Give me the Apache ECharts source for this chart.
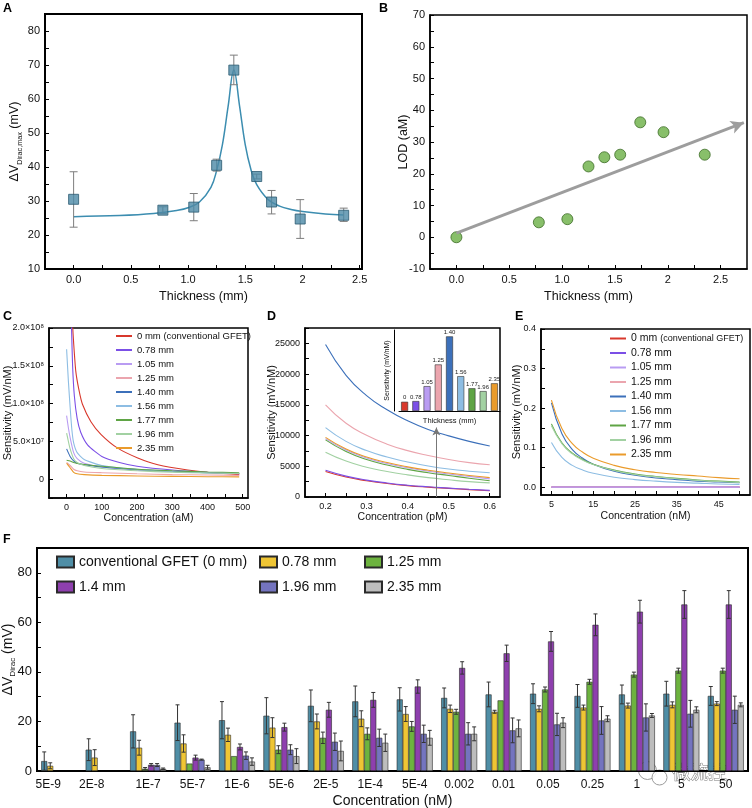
<!DOCTYPE html>
<html><head><meta charset="utf-8">
<script src="https://cdn.jsdelivr.net/npm/echarts@6/dist/echarts.min.js"></script>
<style>html,body{margin:0;padding:0;background:#fff}#c{width:752px;height:808px}</style>
</head><body><div id="c"></div>
<script>
// ---------------- Panel A ----------------
const A_thick = [0, 0.78, 1.05, 1.25, 1.40, 1.60, 1.73, 1.98, 2.36];
const A_dv    = [30.5, 27.3, 28.2, 40.5, 68.5, 37.2, 29.7, 24.7, 25.8];
const A_lo    = [22.3, 26.3, 24.2, 38.8, 64.2, 36.5, 26.2, 19.0, 24.0];
const A_hi    = [38.6, 28.3, 32.2, 42.3, 72.9, 37.9, 33.1, 30.4, 27.9];
const A_fitX  = [0, 0.4, 0.7, 0.9, 1.0, 1.1, 1.2, 1.25, 1.3, 1.35, 1.4, 1.45, 1.5, 1.55, 1.6, 1.7, 1.8, 1.9, 2.0, 2.2, 2.36];
const A_fitY  = [25.4, 25.7, 26.3, 27.2, 28.0, 29.7, 34.0, 39.0, 46.5, 57.8, 68.5, 58.0, 46.5, 39.2, 34.8, 30.4, 28.5, 27.5, 26.9, 26.2, 25.9];
const A_xTicks = [0, 0.5, 1, 1.5, 2, 2.5];
const A_xLabels = ['0.0', '0.5', '1.0', '1.5', '2', '2.5'];
const A_yTicks = [10, 20, 30, 40, 50, 60, 70, 80];

// ---------------- Panel B ----------------
const B_thick = [0, 0.78, 1.05, 1.25, 1.40, 1.55, 1.74, 1.96, 2.35];
const B_lod   = [0, 4.7, 5.7, 22.3, 25.2, 26.0, 36.2, 33.1, 26.0];
const B_arrowStart = [0.0, 1.3];
const B_arrowEnd   = [2.72, 36.1];
const B_yTicks = [-10, 0, 10, 20, 30, 40, 50, 60, 70];

// ---------------- Panels C, D, E (shared thickness series) ----------------
const LINE_NAMES = ['0 mm (conventional GFET)', '0.78 mm', '1.05 mm', '1.25 mm', '1.40 mm', '1.56 mm', '1.77 mm', '1.96 mm', '2.35 mm'];

// C: concentration (aM), sensitivity in units of 1e6 mV/nM
const C_0mm = [[14,260],[17,205],[20,180],[26,143],[35,118],[45,99],[69,76],[98,59],[145,41],[202,28],[259,19],[344,12],[420,8],[490,6]];
const C_078 = [[12,240],[14,200],[17,150],[22,110],[30,80],[40,62],[60,45],[100,30],[150,22],[200,17],[300,12],[400,9],[490,7]];
const C_105 = [[0,84],[5,68],[10,55],[20,35],[30,27],[50,21],[100,16],[200,12],[300,10],[400,8.5],[490,7.5]];
const C_125 = [[0,22],[10,18],[20,13],[30,11],[50,9.5],[100,8.5],[200,7],[300,6],[400,5.5],[490,5]];
const C_140 = [[0,40],[10,30],[20,24],[30,21],[50,19],[100,16],[200,12.5],[300,10],[400,8.5],[490,7.5]];
const C_156 = [[0,172],[5,130],[10,95],[15,65],[20,48],[30,35],[50,26],[100,18],[200,13],[300,10],[400,8.5],[490,7.5]];
const C_177 = [[0,25],[10,24],[20,22],[40,20],[100,17],[200,13],[300,11],[400,9.5],[490,8.5]];
const C_196 = [[0,61],[5,50],[10,40],[20,27],[30,22],[50,18],[100,14],[200,11],[300,9],[400,8],[490,7.5]];
const C_235 = [[0,21],[10,15],[20,9],[30,7],[50,6],[100,5],[200,4.2],[300,3.6],[400,3.2],[490,3]];
const C_xTicks = [0, 100, 200, 300, 400, 500];
const C_yTicks = [0, 50, 100, 150, 200];
const C_yLabels = ['0', '5.0×10⁷', '1.0×10⁸', '1.5×10⁸', '2.0×10⁸'];

// D: concentration (pM)
const D_x   = [0.20, 0.25, 0.30, 0.35, 0.40, 0.45, 0.50, 0.55, 0.60];
const D_0mm = [4150, 3250, 2650, 2200, 1850, 1600, 1400, 1200, 1020];
const D_078 = [4350, 3400, 2750, 2280, 1920, 1660, 1450, 1250, 1080];
const D_105 = [9500, 7650, 6350, 5450, 4750, 4200, 3750, 3350, 2950];
const D_125 = [15000, 12000, 10050, 8600, 7550, 6750, 6100, 5600, 5250];
const D_140 = [24800, 19800, 16500, 14200, 12400, 11000, 9950, 9050, 8300];
const D_156 = [11300, 9050, 7550, 6500, 5700, 5050, 4550, 4200, 3950];
const D_177 = [9300, 7400, 6100, 5200, 4500, 3950, 3500, 3050, 2650];
const D_196 = [7300, 5850, 4850, 4150, 3600, 3150, 2800, 2500, 2300];
const D_235 = [9700, 7800, 6500, 5600, 4900, 4350, 3900, 3500, 3150];
const D_arrowX = 0.47;
const D_arrowTop = 11300;
const D_xTicks = [0.2, 0.3, 0.4, 0.5, 0.6];
const D_yTicks = [0, 5000, 10000, 15000, 20000, 25000];
const INSET_LABELS = ['0', '0.78', '1.05', '1.25', '1.40', '1.56', '1.77', '1.96', '2.35'];
const INSET_VALUES = [1300, 1400, 3500, 6550, 10500, 4900, 3200, 2800, 3900];

// E: concentration (nM)
const E_x   = [5, 7.5, 10, 12.5, 15, 20, 25, 30, 35, 40, 45, 50];
const E_0mm = [0, 0, 0, 0, 0, 0, 0, 0, 0, 0, 0, 0];
const E_078 = [0, 0, 0, 0, 0, 0, 0, 0, 0, 0, 0, 0];
const E_105 = [0, 0, 0, 0, 0, 0, 0, 0, 0, 0, 0, 0];
const E_125 = [0, 0, 0, 0, 0, 0, 0, 0, 0, 0, 0, 0];
const E_140 = [0.213, 0.135, 0.095, 0.073, 0.058, 0.040, 0.030, 0.023, 0.019, 0.015, 0.013, 0.011];
const E_156 = [0.113, 0.075, 0.055, 0.043, 0.035, 0.025, 0.019, 0.015, 0.012, 0.010, 0.008, 0.007];
const E_177 = [0.160, 0.112, 0.086, 0.070, 0.058, 0.043, 0.033, 0.027, 0.022, 0.018, 0.015, 0.013];
const E_196 = [0.155, 0.110, 0.084, 0.068, 0.057, 0.042, 0.032, 0.026, 0.021, 0.017, 0.014, 0.012];
const E_235 = [0.220, 0.148, 0.110, 0.088, 0.073, 0.055, 0.044, 0.037, 0.032, 0.028, 0.024, 0.021];
const E_xTicks = [5, 15, 25, 35, 45];
const E_yTicks = [0, 0.1, 0.2, 0.3, 0.4];

// ---------------- Panel F ----------------
const F_cats = ['5E-9', '2E-8', '1E-7', '5E-7', '1E-6', '5E-6', '2E-5', '1E-4', '5E-4', '0.002', '0.01', '0.05', '0.25', '1', '5', '50'];
const F_names = ['conventional GFET (0 mm)', '0.78 mm', '1.25 mm', '1.4 mm', '1.96 mm', '2.35 mm'];
const F_conv   = [4.0, 8.6, 16.0, 19.5, 20.5, 22.3, 26.3, 28.1, 28.9, 29.5, 30.9, 31.2, 30.3, 30.9, 31.2, 30.3];
const F_convE  = [3.7, 4.4, 6.7, 7.2, 7.5, 7.3, 6.4, 6.2, 4.7, 4.0, 5.0, 4.0, 4.6, 3.8, 5.0, 3.8];
const F_078    = [2.1, 5.4, 9.4, 11.1, 14.6, 17.5, 20.0, 21.1, 23.0, 25.1, 23.9, 25.1, 25.6, 26.4, 26.7, 27.2];
const F_078E   = [1.2, 3.2, 3.0, 3.5, 2.7, 4.0, 3.0, 3.2, 3.0, 1.5, 0.6, 1.2, 1.0, 1.0, 1.2, 0.8];
const F_125    = [null, null, 0.9, 3.0, 6.0, 8.6, 13.4, 15.0, 18.0, 23.9, 28.5, 32.9, 36.0, 38.9, 40.5, 40.5];
const F_125E   = [null, null, 0.5, 0, 0, 1.6, 2.3, 2.4, 2.0, 1.0, 0, 1.0, 1.0, 1.0, 1.0, 1.0];
const F_140    = [null, null, 2.5, 5.4, 9.7, 17.7, 24.7, 28.7, 34.1, 41.6, 47.5, 52.3, 59.0, 64.3, 67.2, 67.2];
const F_140E   = [null, null, 0.5, 1.0, 1.2, 1.6, 3.0, 3.0, 2.7, 2.5, 3.3, 4.0, 4.4, 4.6, 5.6, 5.6];
const F_196    = [null, null, 2.4, 4.6, 6.2, 8.6, 11.8, 13.4, 15.0, 15.0, 16.4, 18.8, 20.4, 21.6, 23.1, 24.7];
const F_196E   = [null, null, 0.6, 0.2, 1.5, 2.0, 3.5, 3.5, 3.5, 4.5, 5.0, 4.5, 5.6, 5.5, 5.4, 5.5];
const F_235    = [null, null, 0.9, 1.5, 3.8, 6.0, 8.1, 11.4, 13.4, 15.0, 17.2, 19.5, 21.1, 22.4, 24.7, 26.7];
const F_235E   = [null, null, 0.3, 0.8, 1.5, 3.0, 4.0, 3.5, 3.0, 2.8, 3.4, 2.0, 1.2, 0.8, 1.2, 0.8];
const F_yTicks = [0, 20, 40, 60, 80];

// ================= styling & build =================
const FONT = 'Liberation Sans, Arial, Helvetica, sans-serif';
const LINE_COLORS = ['#d8382c', '#7b4fe6', '#b99cf2', '#eba5ae', '#3c70ba', '#8dbde3', '#5fa445', '#a2d1a2', '#ea9b2b'];
const F_COLORS = ['#4f8ea6', '#efc534', '#6db33f', '#8e3fae', '#7474bf', '#bdbdbd'];
const BAR_W = 6;

function steps(a, b, s) { const r = []; for (let v = a; v <= b + 1e-9; v += s) r.push(+v.toFixed(6)); return r; }
function fmtFrom(vals, labels) {
  return v => { const i = vals.findIndex(t => Math.abs(t - v) < 1e-9); return i >= 0 ? labels[i] : ''; };
}
function vAxis(g, min, max, lv, ll, tv, fs, extra) {
  return Object.assign({
    type: 'value', gridIndex: g, min: min, max: max,
    nameMoveOverlap: false,
    axisLine: { show: true, onZero: false, lineStyle: { color: '#000', width: 1.5 } },
    axisTick: { show: true, inside: true, length: 4, customValues: tv, lineStyle: { color: '#000', width: 1 } },
    axisLabel: { customValues: lv, formatter: fmtFrom(lv, ll), fontSize: fs, color: '#111', fontFamily: FONT, margin: 5 },
    splitLine: { show: false },
    nameTextStyle: { fontFamily: FONT, color: '#111' }
  }, extra || {});
}
function gridBox(l, t, w, h, bw) {
  return { left: l, top: t, width: w, height: h, show: true, borderColor: '#000', borderWidth: bw, backgroundColor: 'transparent', containLabel: false, outerBoundsMode: 'none' };
}
function errRender(cap, color, offsetPx) {
  return function (params, api) {
    const x = api.value(0), lo = api.value(1), hi = api.value(2);
    const a = api.coord([x, lo]), b = api.coord([x, hi]);
    const cx = a[0] + offsetPx;
    const st = { stroke: color, lineWidth: 1 };
    return { type: 'group', children: [
      { type: 'line', shape: { x1: cx, y1: a[1], x2: cx, y2: b[1] }, style: st },
      { type: 'line', shape: { x1: cx - cap, y1: a[1], x2: cx + cap, y2: a[1] }, style: st },
      { type: 'line', shape: { x1: cx - cap, y1: b[1], x2: cx + cap, y2: b[1] }, style: st }
    ] };
  };
}

const grids = [
  gridBox(45, 14, 317, 255, 2),     // A
  gridBox(430, 15, 317, 254, 1.5),  // B
  gridBox(49, 328, 199, 170, 1.5),  // C
  gridBox(305, 328, 195, 169, 1.5), // D
  gridBox(541, 329, 209, 166, 1.5), // E
  { left: 399, top: 330, width: 101, height: 81, show: false, outerBoundsMode: 'none' }, // D inset
  gridBox(37, 548, 711, 223, 2)     // F
];

const subName = (main, sub, unit, fs) => ({
  name: '{d|' + main + '}{s|' + sub + '}{d|' + unit + '}',
  nameTextStyle: { rich: {
    d: { fontSize: fs, fontFamily: FONT, color: '#111', lineHeight: fs + 4, verticalAlign: 'middle' },
    s: { fontSize: fs * 0.58, fontFamily: FONT, color: '#111', lineHeight: fs + 4, verticalAlign: 'bottom' }
  } }
});

const xAxes = [
  vAxis(0, -0.25, 2.52, A_xTicks, A_xLabels, steps(0, 2.5, 0.25), 11, { name: 'Thickness (mm)', nameLocation: 'middle', nameGap: 21, nameTextStyle: { fontFamily: FONT, fontSize: 12.5, color: '#111' } }),
  vAxis(1, -0.25, 2.75, A_xTicks, A_xLabels, steps(0, 2.5, 0.25), 11, { name: 'Thickness (mm)', nameLocation: 'middle', nameGap: 21, nameTextStyle: { fontFamily: FONT, fontSize: 12.5, color: '#111' } }),
  vAxis(2, -50, 515, C_xTicks, C_xTicks.map(String), steps(0, 500, 50), 9, { name: 'Concentration (aM)', nameLocation: 'middle', nameGap: 15, nameTextStyle: { fontFamily: FONT, fontSize: 10.5, color: '#111' } }),
  vAxis(3, 0.15, 0.625, D_xTicks, D_xTicks.map(v => v.toFixed(1)), steps(0.2, 0.6, 0.05), 9, { name: 'Concentration (pM)', nameLocation: 'middle', nameGap: 15, nameTextStyle: { fontFamily: FONT, fontSize: 10.5, color: '#111' } }),
  vAxis(4, 2.5, 52.5, E_xTicks, E_xTicks.map(String), steps(5, 50, 5), 9, { name: 'Concentration (nM)', nameLocation: 'middle', nameGap: 16, nameTextStyle: { fontFamily: FONT, fontSize: 10.5, color: '#111' } }),
  { type: 'category', gridIndex: 5, data: INSET_LABELS, axisLine: { show: true, lineStyle: { color: '#000', width: 1 } }, axisTick: { show: false }, axisLabel: { show: false },
    nameMoveOverlap: false,
    name: 'Thickness (mm)', nameLocation: 'middle', nameGap: 6, nameTextStyle: { fontFamily: FONT, fontSize: 7.5, color: '#111' } },
  { type: 'category', gridIndex: 6, data: F_cats, axisLine: { show: true, lineStyle: { color: '#000', width: 2 } }, axisTick: { show: false },
    nameMoveOverlap: false,
    axisLabel: { interval: 0, fontSize: 12, color: '#111', fontFamily: FONT, margin: 8,
      formatter: (v, i) => (i === 0 ? '{a|' + v + '}' : i === 1 ? '{b|' + v + '}' : v),
      rich: { a: { fontSize: 12, fontFamily: FONT, color: '#111', padding: [0, 22, 0, 0] }, b: { fontSize: 12, fontFamily: FONT, color: '#111', padding: [0, 24, 0, 0] } } },
    name: 'Concentration (nM)', nameLocation: 'middle', nameGap: 23, nameTextStyle: { fontFamily: FONT, fontSize: 14, color: '#111' } }
];

const yAxes = [
  vAxis(0, 10, 85, A_yTicks, A_yTicks.map(String), steps(10, 85, 5), 11, Object.assign({ nameLocation: 'middle', nameGap: 22, nameRotate: 90 }, subName('ΔV', 'Dirac,max', ' (mV)', 12.5))),
  vAxis(1, -10, 70, B_yTicks, B_yTicks.map(String), steps(-10, 70, 5), 11, { name: 'LOD (aM)', nameLocation: 'middle', nameGap: 20, nameRotate: 90, nameTextStyle: { fontFamily: FONT, fontSize: 12.5, color: '#111' } }),
  vAxis(2, -25, 200, C_yTicks, C_yLabels, steps(-25, 200, 25), 9, { name: 'Sensitivity (mV/nM)', nameLocation: 'middle', nameGap: 36, nameRotate: 90, nameTextStyle: { fontFamily: FONT, fontSize: 11, color: '#111' } }),
  vAxis(3, 0, 27500, D_yTicks, D_yTicks.map(String), steps(0, 27500, 2500), 9, { name: 'Sensitivity (mV/nM)', nameLocation: 'middle', nameGap: 28, nameRotate: 90, nameTextStyle: { fontFamily: FONT, fontSize: 11, color: '#111' } }),
  vAxis(4, -0.02, 0.4, E_yTicks, E_yTicks.map(v => v.toFixed(1)), steps(0, 0.4, 0.05), 9, { name: 'Sensitivity (mV/nM)', nameLocation: 'middle', nameGap: 19, nameRotate: 90, nameTextStyle: { fontFamily: FONT, fontSize: 11, color: '#111' } }),
  { type: 'value', gridIndex: 5, min: 0, max: 11400, offset: 5, axisLine: { show: true, lineStyle: { color: '#000', width: 1 } }, axisTick: { show: false }, axisLabel: { show: false }, splitLine: { show: false },
    nameMoveOverlap: false,
    name: 'Sensitivity (mV/nM)', nameLocation: 'middle', nameGap: 3, nameRotate: 90, nameTextStyle: { fontFamily: FONT, fontSize: 7, color: '#111' } },
  vAxis(6, 0, 90, F_yTicks, F_yTicks.map(String), steps(0, 90, 10), 13, Object.assign({ nameLocation: 'middle', nameGap: 20, nameRotate: 90, axisLine: { show: true, lineStyle: { color: '#000', width: 2 } } }, subName('ΔV', 'Dirac', ' (mV)', 14)))
];

const series = [];
// A
series.push({ type: 'line', xAxisIndex: 0, yAxisIndex: 0, data: A_fitX.map((x, i) => [x, A_fitY[i]]), smooth: 0.4, showSymbol: false, lineStyle: { color: '#3c8db0', width: 1.5 }, z: 2, silent: true });
series.push({ type: 'custom', xAxisIndex: 0, yAxisIndex: 0, data: A_thick.map((x, i) => [x, A_lo[i], A_hi[i]]), renderItem: errRender(4, '#7d7d7d', 0), encode: { x: 0, y: [1, 2] }, z: 3, silent: true });
series.push({ type: 'scatter', xAxisIndex: 0, yAxisIndex: 0, data: A_thick.map((x, i) => [x, A_dv[i]]), symbol: 'rect', symbolSize: 10, itemStyle: { color: '#4c8aa6', borderColor: '#2b5a70', borderWidth: 1 }, z: 4 });
// B
series.push({ type: 'scatter', xAxisIndex: 1, yAxisIndex: 1, data: B_thick.map((x, i) => [x, B_lod[i]]), symbolSize: 11, itemStyle: { color: '#6aaf45', borderColor: '#3d6d27', borderWidth: 1 }, z: 4,
  markLine: { silent: true, symbol: ['none', 'arrow'], symbolSize: [10, 13], label: { show: false }, lineStyle: { color: '#9d9d9d', width: 3, type: 'solid' },
    data: [[{ coord: B_arrowStart }, { coord: B_arrowEnd }]] } });
// C
const C_all = [C_0mm, C_078, C_105, C_125, C_140, C_156, C_177, C_196, C_235];
LINE_NAMES.forEach((n, i) => series.push({ name: n, type: 'line', xAxisIndex: 2, yAxisIndex: 2, data: C_all[i], smooth: 0.2, showSymbol: false, clip: true, lineStyle: { color: LINE_COLORS[i], width: 1.1 }, itemStyle: { color: LINE_COLORS[i] } }));
// D
const D_all = [D_0mm, D_078, D_105, D_125, D_140, D_156, D_177, D_196, D_235];
LINE_NAMES.forEach((n, i) => series.push({ name: n, type: 'line', xAxisIndex: 3, yAxisIndex: 3, data: D_x.map((x, k) => [x, D_all[i][k]]), smooth: true, showSymbol: false, lineStyle: { color: LINE_COLORS[i], width: 1.1 }, itemStyle: { color: LINE_COLORS[i] } }));
series.push({ type: 'line', xAxisIndex: 3, yAxisIndex: 3, data: [], silent: true,
  markLine: { silent: true, symbol: ['none', 'arrow'], symbolSize: [6, 8], label: { show: false }, lineStyle: { color: '#777', width: 1, type: 'solid' },
    data: [[{ coord: [D_arrowX, 0] }, { coord: [D_arrowX, D_arrowTop] }]] } });
series.push({ type: 'bar', xAxisIndex: 5, yAxisIndex: 5, barWidth: 7,
  data: INSET_VALUES.map((v, i) => ({ value: v, itemStyle: { color: LINE_COLORS[i] } })),
  itemStyle: { borderColor: '#333', borderWidth: 0.6 },
  label: { show: true, position: 'top', distance: 1, formatter: '{b}', fontSize: 6, fontFamily: FONT, color: '#222' } });
// E
const E_all = [E_0mm, E_078, E_105, E_125, E_140, E_156, E_177, E_196, E_235];
[0, 1, 3, 2, 4, 5, 6, 7, 8].forEach(i => series.push({ name: LINE_NAMES[i], type: 'line', xAxisIndex: 4, yAxisIndex: 4, data: E_x.map((x, k) => [x, E_all[i][k]]), smooth: true, showSymbol: false, lineStyle: { color: LINE_COLORS[i], width: 1.1 }, itemStyle: { color: LINE_COLORS[i] } }));
// F
const F_vals = [F_conv, F_078, F_125, F_140, F_196, F_235];
const F_errs = [F_convE, F_078E, F_125E, F_140E, F_196E, F_235E];
F_names.forEach((n, s) => series.push({ name: 'F' + n, type: 'bar', xAxisIndex: 6, yAxisIndex: 6, data: F_vals[s], barWidth: BAR_W, barGap: '0%',
  itemStyle: { color: F_COLORS[s], borderColor: '#2a2a2a', borderWidth: 0.6 }, z: 2 }));
F_names.forEach((n, s) => {
  const d = [];
  F_vals[s].forEach((v, i) => { if (v != null && F_errs[s][i]) d.push([i, v - F_errs[s][i], v + F_errs[s][i]]); });
  series.push({ type: 'custom', xAxisIndex: 6, yAxisIndex: 6, data: d, renderItem: errRender(2, '#333', (s - 2.5) * BAR_W), encode: { x: 0, y: [1, 2] }, z: 5, silent: true });
});

const legBase = { orient: 'vertical', selectedMode: false, icon: 'rect', padding: 0 };
const legends = [
  Object.assign({}, legBase, { data: LINE_NAMES, left: 116, top: 331, itemWidth: 16, itemHeight: 2, itemGap: 4, textStyle: { fontSize: 9.5, color: '#111', fontFamily: FONT } }),
  Object.assign({}, legBase, { data: LINE_NAMES, left: 610, top: 333, itemWidth: 16, itemHeight: 2, itemGap: 3.5,
    formatter: n => n === LINE_NAMES[0] ? '0 mm {s|(conventional GFET)}' : n,
    textStyle: { fontSize: 10.5, color: '#111', fontFamily: FONT, rich: { s: { fontSize: 9, fontFamily: FONT, color: '#111' } } } }),
  Object.assign({}, legBase, { data: ['F' + F_names[0], 'F' + F_names[3]], left: 56, top: 555, itemWidth: 17, itemHeight: 11, itemGap: 11, formatter: n => n.slice(1), textStyle: { fontSize: 14, color: '#111', fontFamily: FONT } }),
  Object.assign({}, legBase, { data: ['F' + F_names[1], 'F' + F_names[4]], left: 259, top: 555, itemWidth: 17, itemHeight: 11, itemGap: 11, formatter: n => n.slice(1), textStyle: { fontSize: 14, color: '#111', fontFamily: FONT } }),
  Object.assign({}, legBase, { data: ['F' + F_names[2], 'F' + F_names[5]], left: 364, top: 555, itemWidth: 17, itemHeight: 11, itemGap: 11, formatter: n => n.slice(1), textStyle: { fontSize: 14, color: '#111', fontFamily: FONT } })
];

const letter = (t, x, y) => ({ type: 'text', left: x, top: y, z: 50, style: { text: t, fontSize: 12.5, fontWeight: 'bold', fontFamily: FONT, fill: '#000' } });
const graphic = [
  letter('A', 3, 2), letter('B', 379, 2), letter('C', 3, 310), letter('D', 267, 310), letter('E', 515, 310), letter('F', 3, 533),
  { type: 'group', left: 638, top: 761, z: 100, silent: true, children: [
    { type: 'circle', shape: { cx: 11, cy: 10, r: 9 }, style: { fill: 'rgba(255,255,255,0.85)', stroke: '#9a9a9a', lineWidth: 1 } },
    { type: 'circle', shape: { cx: 23, cy: 17, r: 7.5 }, style: { fill: 'rgba(255,255,255,0.85)', stroke: '#9a9a9a', lineWidth: 1 } },
    { type: 'text', x: 36, y: 3, style: { text: '微流控', fontSize: 18, fontFamily: 'Noto Sans CJK SC', fill: '#ffffff', stroke: '#7a7a7a', lineWidth: 1 } }
  ] }
];

const chart = echarts.init(document.getElementById('c'), null, { renderer: 'canvas', width: 752, height: 808 });
chart.setOption({
  animation: false,
  backgroundColor: '#fff',
  textStyle: { fontFamily: FONT },
  grid: grids, xAxis: xAxes, yAxis: yAxes, series: series, legend: legends, graphic: graphic
});
</script></body></html>
